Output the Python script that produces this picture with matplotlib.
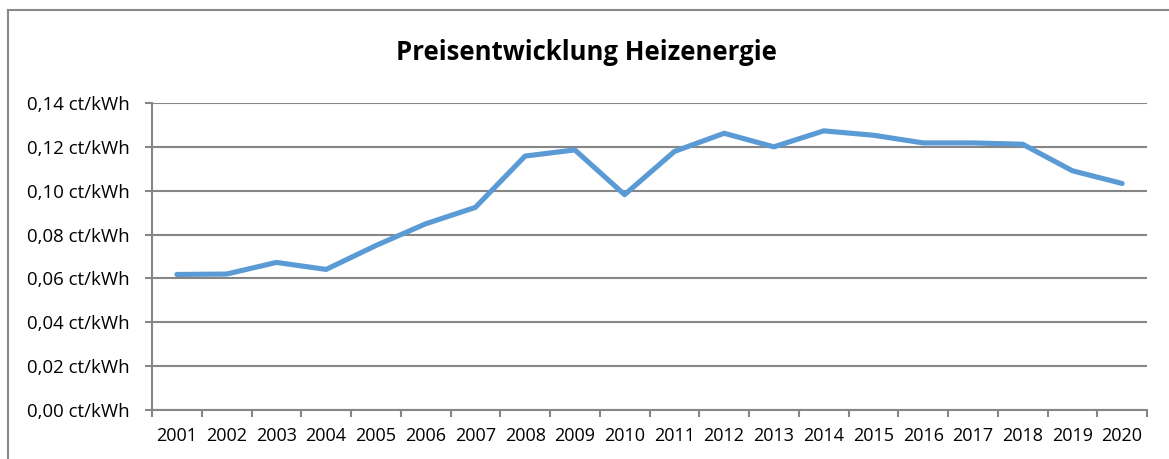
import matplotlib
matplotlib.use("Agg")
import matplotlib.pyplot as plt
from matplotlib.lines import Line2D
from matplotlib.ticker import FixedLocator, FuncFormatter

years = ["2001", "2002", "2003", "2004", "2005", "2006", "2007", "2008", "2009", "2010",
         "2011", "2012", "2013", "2014", "2015", "2016", "2017", "2018", "2019", "2020"]
prices = [0.0618, 0.0620, 0.0673, 0.0641, 0.0750, 0.0849, 0.0924, 0.1158, 0.1186, 0.0982,
          0.1179, 0.1262, 0.1200, 0.1273, 0.1253, 0.1218, 0.1218, 0.1212, 0.1091, 0.1033]
y_ticks = [0.00, 0.02, 0.04, 0.06, 0.08, 0.10, 0.12, 0.14]
title = "Preisentwicklung Heizenergie"

FONT = "Open Sans"
GRID = "#868686"
LINE = "#5B9BD5"

fig = plt.figure(figsize=(11.69, 4.59), dpi=100)
W, H = 1169, 459
ax = fig.add_axes([152 / W, 1 - 410 / H, (1147 - 152) / W, (410 - 103) / H])

x = list(range(1, len(years) + 1))
ax.plot(x, prices, color=LINE, linewidth=3.7, solid_capstyle="round", solid_joinstyle="round", zorder=3)

ax.set_xlim(0.5, len(years) + 0.5)
ax.set_ylim(0, 0.14)
ax.set_yticks(y_ticks)
ax.yaxis.set_major_formatter(FuncFormatter(lambda v, p: f"{v:.2f}".replace(".", ",") + " ct/kWh"))
ax.set_xticks(x)
ax.set_xticklabels(years)
ax.xaxis.set_minor_locator(FixedLocator([i + 0.5 for i in range(0, len(years) + 1)]))

ax.grid(axis="y", color=GRID, linewidth=1.5, zorder=1)
ax.set_axisbelow(True)
for s in ["top", "right"]:
    ax.spines[s].set_visible(False)
for s in ["left", "bottom"]:
    ax.spines[s].set_color(GRID)
    ax.spines[s].set_linewidth(1.5)

ax.tick_params(axis="x", which="major", length=0, pad=12.5, labelsize=13, labelcolor="black")
ax.tick_params(axis="x", which="minor", length=5, width=1.5, color=GRID, direction="out")
ax.tick_params(axis="y", which="major", length=5, width=1.5, color=GRID, pad=11, labelsize=13.4)
for lab in ax.get_xticklabels() + ax.get_yticklabels():
    lab.set_fontfamily(FONT)

fig.text(586 / W, 1 - 52 / H, title, ha="center", va="center", fontsize=18.5,
         fontweight="bold", fontfamily=FONT)

# chart-area frame (left and top edges visible)
fig.add_artist(Line2D([7.5 / W, 7.5 / W], [0, 1 - 10 / H], transform=fig.transFigure, color="#898989", linewidth=1.5))
fig.add_artist(Line2D([7.5 / W, 1], [1 - 10 / H, 1 - 10 / H], transform=fig.transFigure, color="#898989", linewidth=1.5))

fig.savefig("out.png", dpi=100, facecolor="white")
